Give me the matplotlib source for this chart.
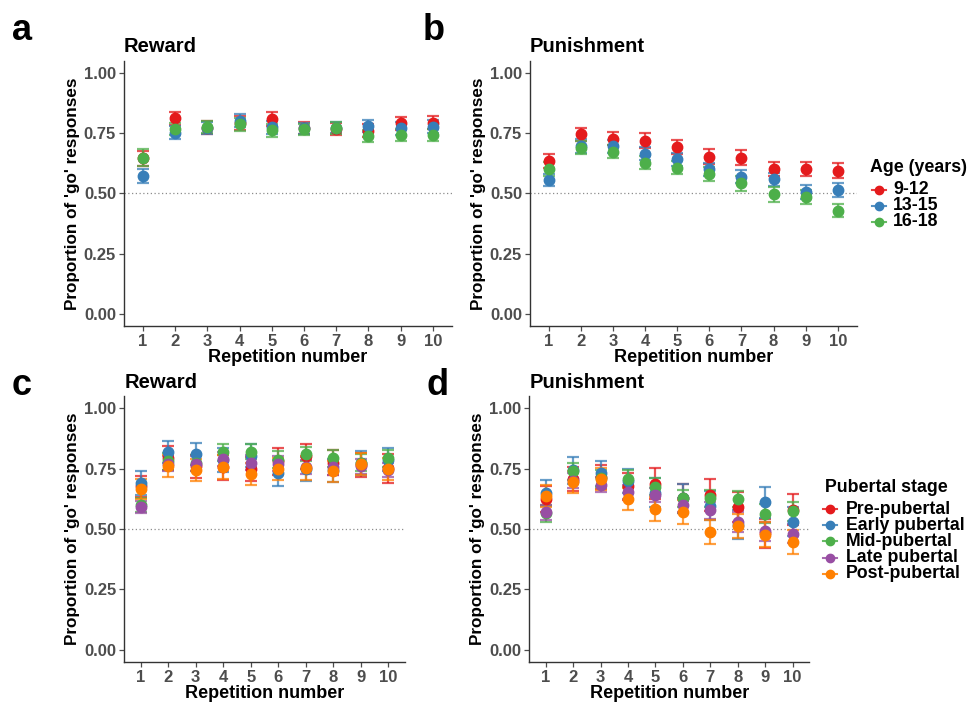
import numpy as np
import matplotlib
matplotlib.use("Agg")
import matplotlib.pyplot as plt
from matplotlib.lines import Line2D

plt.rcParams.update({
    'font.family': ['Liberation Sans', 'DejaVu Sans'],
    'font.weight': 'bold',
})

# ---------------------------------------------------------------------------
# data
# ---------------------------------------------------------------------------
reps = np.arange(1, 11)

age_groups = ['9-12', '13-15', '16-18']
age_colors = ['#E41A1C', '#377EB8', '#4DAF4A']

# Reward, by age
rew_age_912 = [0.645, 0.811, 0.772, 0.792, 0.808, 0.770, 0.765, 0.760, 0.790, 0.793]
rew_age_1315 = [0.572, 0.751, 0.770, 0.800, 0.773, 0.769, 0.772, 0.779, 0.769, 0.776]
rew_age_1618 = [0.648, 0.767, 0.773, 0.787, 0.762, 0.765, 0.770, 0.738, 0.742, 0.742]
rew_age_912_se = [0.030, 0.028, 0.026, 0.028, 0.027, 0.025, 0.025, 0.027, 0.027, 0.027]
rew_age_1315_se = [0.028, 0.026, 0.025, 0.027, 0.026, 0.024, 0.024, 0.025, 0.026, 0.026]
rew_age_1618_se = [0.034, 0.026, 0.025, 0.027, 0.027, 0.024, 0.024, 0.026, 0.026, 0.026]

# Punishment, by age
pun_age_912 = [0.634, 0.744, 0.727, 0.718, 0.691, 0.652, 0.648, 0.600, 0.600, 0.594]
pun_age_1315 = [0.555, 0.696, 0.695, 0.663, 0.641, 0.600, 0.569, 0.558, 0.505, 0.514]
pun_age_1618 = [0.600, 0.689, 0.673, 0.627, 0.605, 0.580, 0.541, 0.496, 0.485, 0.428]
pun_age_912_se = [0.030, 0.028, 0.027, 0.030, 0.030, 0.030, 0.030, 0.030, 0.030, 0.030]
pun_age_1315_se = [0.026, 0.027, 0.027, 0.027, 0.027, 0.027, 0.027, 0.028, 0.028, 0.028]
pun_age_1618_se = [0.028, 0.027, 0.027, 0.027, 0.027, 0.027, 0.030, 0.030, 0.028, 0.028]

stages = ['Pre-pubertal', 'Early pubertal', 'Mid-pubertal', 'Late pubertal', 'Post-pubertal']
stage_colors = ['#E41A1C', '#377EB8', '#4DAF4A', '#984EA3', '#FF7F00']

# Reward, by pubertal stage
rew_pre = [0.676, 0.793, 0.760, 0.756, 0.748, 0.780, 0.800, 0.775, 0.766, 0.752]
rew_early = [0.690, 0.818, 0.811, 0.784, 0.803, 0.731, 0.748, 0.742, 0.773, 0.786]
rew_mid = [0.600, 0.780, 0.773, 0.817, 0.820, 0.786, 0.810, 0.793, 0.775, 0.793]
rew_late = [0.590, 0.770, 0.770, 0.790, 0.775, 0.770, 0.756, 0.755, 0.759, 0.745]
rew_post = [0.665, 0.762, 0.745, 0.756, 0.729, 0.748, 0.752, 0.738, 0.770, 0.749]
rew_pre_se = [0.045, 0.050, 0.048, 0.052, 0.050, 0.055, 0.050, 0.050, 0.050, 0.060]
rew_early_se = [0.050, 0.045, 0.045, 0.050, 0.048, 0.055, 0.048, 0.048, 0.048, 0.048]
rew_mid_se = [0.030, 0.035, 0.035, 0.035, 0.030, 0.035, 0.030, 0.035, 0.035, 0.035]
rew_late_se = [0.025, 0.030, 0.030, 0.030, 0.030, 0.030, 0.030, 0.030, 0.030, 0.030]
rew_post_se = [0.040, 0.045, 0.045, 0.050, 0.045, 0.045, 0.048, 0.045, 0.045, 0.045]

# Punishment, by pubertal stage
pun_pre = [0.624, 0.707, 0.715, 0.676, 0.687, 0.628, 0.640, 0.591, 0.483, 0.580]
pun_early = [0.649, 0.742, 0.731, 0.697, 0.649, 0.628, 0.596, 0.518, 0.610, 0.529]
pun_mid = [0.566, 0.738, 0.710, 0.708, 0.674, 0.628, 0.628, 0.624, 0.563, 0.573]
pun_late = [0.569, 0.700, 0.683, 0.653, 0.640, 0.600, 0.577, 0.529, 0.490, 0.481]
pun_post = [0.635, 0.693, 0.707, 0.624, 0.583, 0.570, 0.488, 0.511, 0.477, 0.445]
pun_pre_se = [0.055, 0.050, 0.050, 0.055, 0.065, 0.060, 0.067, 0.060, 0.060, 0.065]
pun_early_se = [0.055, 0.055, 0.052, 0.050, 0.060, 0.060, 0.060, 0.060, 0.063, 0.060]
pun_mid_se = [0.035, 0.035, 0.035, 0.035, 0.035, 0.035, 0.035, 0.035, 0.040, 0.040]
pun_late_se = [0.030, 0.030, 0.030, 0.030, 0.030, 0.030, 0.035, 0.040, 0.040, 0.040]
pun_post_se = [0.045, 0.045, 0.045, 0.045, 0.050, 0.050, 0.050, 0.050, 0.050, 0.050]

# ---------------------------------------------------------------------------
# figure
# ---------------------------------------------------------------------------
W, H = 972, 702
fig = plt.figure(figsize=(W / 100, H / 100), dpi=100)


def px_axes(left, right, top, bottom):
    return fig.add_axes([left / W, (H - bottom) / H, (right - left) / W, (bottom - top) / H])


def fx(x):
    return x / W


def fy(y):
    return (H - y) / H


TICK_GREY = '#4D4D4D'


def style_panel(ax, title):
    ax.set_xlim(0.4, 10.6)
    ax.set_ylim(-0.05, 1.05)
    ax.axhline(0.5, color='#8C8C8C', linestyle=(0, (1, 2)), linewidth=0.9, zorder=1)
    for s in ['top', 'right']:
        ax.spines[s].set_visible(False)
    for s in ['left', 'bottom']:
        ax.spines[s].set_color('#333333')
        ax.spines[s].set_linewidth(1.0)
    ax.set_xticks(reps)
    ax.set_yticks([0, 0.25, 0.5, 0.75, 1.0])
    ax.set_yticklabels(['0.00', '0.25', '0.50', '0.75', '1.00'])
    ax.tick_params(axis='both', colors=TICK_GREY, labelsize=12, length=3.5, width=0.9, pad=2)
    for lab in ax.get_xticklabels() + ax.get_yticklabels():
        lab.set_fontweight('bold')
    ax.set_xlabel('Repetition number', fontsize=13, fontweight='bold', labelpad=0)
    ax.set_ylabel("Proportion of 'go' responses", fontsize=12.3, fontweight='bold', labelpad=3)
    ax.set_title(title, loc='left', fontsize=14.5, fontweight='bold', pad=6)


def draw_series(ax, means, ses, colors):
    for m, e, c in zip(means, ses, colors):
        ax.errorbar(reps, m, yerr=e, fmt='none', ecolor=c, elinewidth=1.6,
                    capsize=4, capthick=1.6, alpha=0.75, zorder=2)
        ax.plot(reps, m, 'o', color=c, markersize=7.5, zorder=3)


ax_a = px_axes(123.7, 452, 60.6, 326)
ax_b = px_axes(529.7, 857, 60.6, 326)
ax_c = px_axes(124.2, 404.8, 396, 662)
ax_d = px_axes(529.2, 809.1, 396, 662)

draw_series(ax_a, [rew_age_912, rew_age_1315, rew_age_1618],
            [rew_age_912_se, rew_age_1315_se, rew_age_1618_se], age_colors)
draw_series(ax_b, [pun_age_912, pun_age_1315, pun_age_1618],
            [pun_age_912_se, pun_age_1315_se, pun_age_1618_se], age_colors)
draw_series(ax_c, [rew_pre, rew_early, rew_mid, rew_late, rew_post],
            [rew_pre_se, rew_early_se, rew_mid_se, rew_late_se, rew_post_se], stage_colors)
draw_series(ax_d, [pun_pre, pun_early, pun_mid, pun_late, pun_post],
            [pun_pre_se, pun_early_se, pun_mid_se, pun_late_se, pun_post_se], stage_colors)

style_panel(ax_a, 'Reward')
style_panel(ax_b, 'Punishment')
style_panel(ax_c, 'Reward')
style_panel(ax_d, 'Punishment')

# panel letters
for letter, x, y in [('a', 12, 40), ('b', 423, 40), ('c', 12, 395), ('d', 426, 395)]:
    fig.text(fx(x), fy(y), letter, fontsize=26, fontweight='bold', ha='left', va='baseline')


# ggplot-style legends, drawn by hand so the tight row spacing can be matched
def draw_legend(labels, colors, title, x_title, y_title, x_key, x_text, y_first, dy):
    fig.text(fx(x_title), fy(y_title), title, fontsize=12.8, fontweight='bold',
             ha='left', va='center')
    for i, (lab, c) in enumerate(zip(labels, colors)):
        y = y_first + i * dy
        fig.add_artist(Line2D([fx(x_key - 7), fx(x_key + 7)], [fy(y), fy(y)],
                              transform=fig.transFigure, color=c, linewidth=1.5, alpha=0.85))
        fig.add_artist(Line2D([fx(x_key)], [fy(y)], transform=fig.transFigure,
                              color=c, marker='o', markersize=6, linestyle='none'))
        fig.text(fx(x_text), fy(y), lab, fontsize=12.8, fontweight='bold',
                 ha='left', va='center')


draw_legend(age_groups, age_colors, 'Age (years)', 870, 167, 879, 893, 190, 16.0)
draw_legend(stages, stage_colors, 'Pubertal stage', 825, 487, 830, 846, 509, 16.2)

fig.savefig('out.png', dpi=100)
